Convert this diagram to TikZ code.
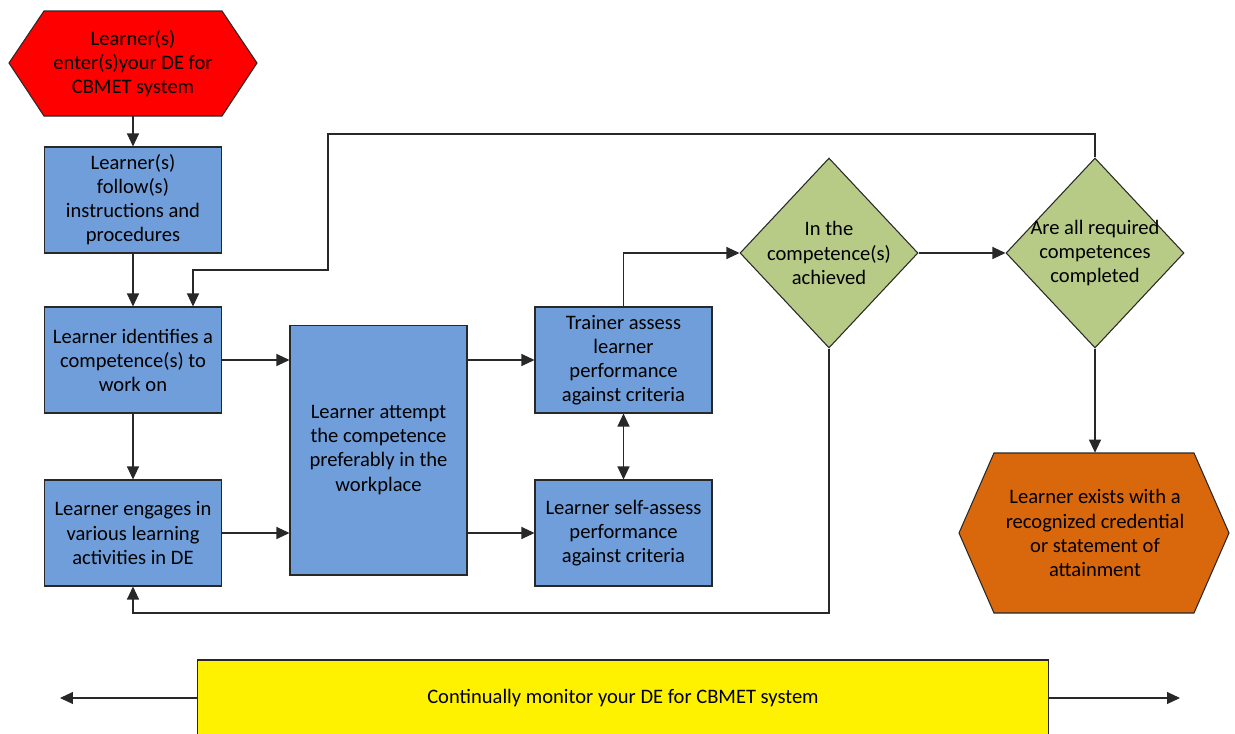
\documentclass[tikz,border=0pt]{standalone}
\usepackage{fontspec}
\setmainfont{Carlito}
\usetikzlibrary{arrows.meta, positioning, shapes.geometric}
\definecolor{boxblue}{RGB}{112,158,218}
\definecolor{decgreen}{RGB}{183,203,135}
\definecolor{exitorange}{RGB}{217,104,13}
\definecolor{linegray}{RGB}{40,40,40}

\begin{document}
\begin{tikzpicture}[
    x=0.02cm, y=-0.02cm,
    every node/.style={font=\fontsize{11.7}{13.7}\selectfont, align=center},
    task/.style={rectangle, draw=linegray, fill=boxblue, line width=0.6pt,
      minimum width=3.54cm, minimum height=2.12cm, inner sep=0pt},
    check/.style={diamond, draw=linegray, fill=decgreen, line width=0.6pt,
      minimum width=3.56cm, minimum height=3.8cm, inner sep=0pt},
    term/.style={rectangle, inner sep=0pt},
    hex/.style={draw=linegray, line width=0.6pt},
    link/.style={draw=linegray, line width=0.6pt,
      -{Triangle[length=0.26cm, width=0.24cm]}},
  ]
    \useasboundingbox (0,0) rectangle (1235,734);
    % terminal shapes
    \filldraw[hex, fill=red] (9,63) -- (44,11) -- (222,11) -- (257,63)
      -- (222,116) -- (44,116) -- cycle;
    \filldraw[hex, fill=exitorange] (959,533) -- (994,453) -- (1194,453)
      -- (1229,533) -- (1194,613) -- (994,613) -- cycle;
    \node[term, minimum width=4.96cm, minimum height=2.1cm] (start) at (133,63.5)
      {Learner(s)\\enter(s)your DE for\\CBMET system};
    \node[term, minimum width=5.4cm, minimum height=3.2cm] (exit) at (1095,533)
      {Learner exists with a\\recognized credential\\or statement of\\attainment};
    % process boxes
    \node[task] (follow) at (133,200)
      {Learner(s)\\follow(s)\\instructions and\\procedures};
    \node[task] (identify) at (133,360)
      {Learner identifies a\\competence(s) to\\work on};
    \node[task] (engage) at (133,533)
      {Learner engages in\\various learning\\activities in DE};
    \node[task, minimum height=5cm] (attempt) at (378.5,450)
      {Learner attempt\\the competence\\preferably in the\\workplace};
    \node[task] (trainer) at (623.5,360)
      {Trainer assess\\learner\\performance\\against criteria};
    \node[task] (selfass) at (623.5,533)
      {Learner self-assess\\performance\\against criteria};
    % decisions
    \node[check, label={center:In the\\competence(s)\\achieved}] (achieved) at (829,253) {};
    \node[check, label={center:Are all required\\competences\\completed}] (allreq) at (1095,253) {};
    % monitoring bar
    \node[rectangle, draw=linegray, fill=yellow, line width=0.6pt,
      minimum width=17.04cm, minimum height=1.52cm] (monitor) at (623,698)
      {Continually monitor your DE for CBMET system};
    \coordinate (monL) at (60,698);
    \coordinate (monR) at (1180,698);
    % loop corners
    \coordinate (loopA) at (328,134);
    \coordinate (loopB) at (193,270);
    \coordinate (loopC) at (829,613);
    % connectors
    \draw[link] (start) -- (follow);
    \draw[link] (follow) -- (identify);
    \draw[link] (identify) -- (engage);
    \draw[link] (identify) -- (identify -| attempt.west);
    \draw[link] (engage) -- (engage -| attempt.west);
    \draw[link] (trainer -| attempt.east) -- (trainer);
    \draw[link] (selfass -| attempt.east) -- (selfass);
    \draw[link, {Triangle[length=0.26cm, width=0.24cm]}-{Triangle[length=0.26cm, width=0.24cm]}]
      (trainer) -- (selfass);
    \draw[link] (trainer.north) |- (achieved.west);
    \draw[link] (achieved) -- (allreq);
    \draw[link] (allreq.north) |- (loopA) |- (loopB) -- (loopB |- identify.north);
    \draw[link] (achieved.south) -- (loopC) -| (engage.south);
    \draw[link] (allreq) -- (exit);
    \draw[link] (monitor) -- (monL);
    \draw[link] (monitor) -- (monR);
\end{tikzpicture}
\end{document}
